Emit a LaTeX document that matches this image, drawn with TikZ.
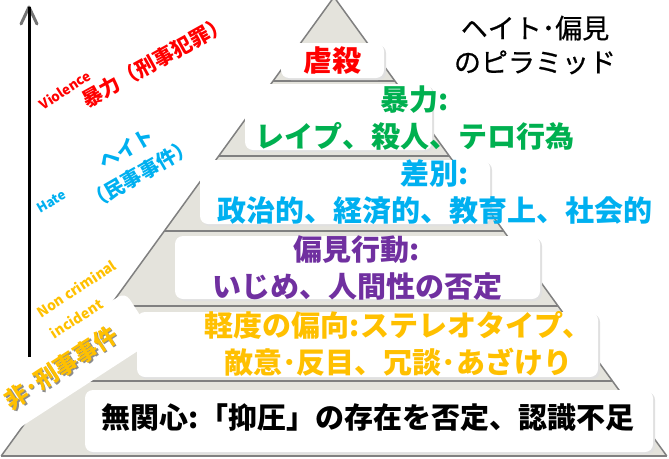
\documentclass[tikz,border=0pt]{standalone}
\usepackage{fontspec}
\setmainfont{Noto Sans CJK JP}
\newfontfamily\titlefont[FakeBold=0.6]{Noto Sans CJK JP}
\usetikzlibrary{calc}
\definecolor{pyrfill}{HTML}{E4E3DC}
\definecolor{pyredge}{HTML}{808080}
\definecolor{cRed}{HTML}{FF0000}
\definecolor{cGreen}{HTML}{00B050}
\definecolor{cBlue}{HTML}{00B0F0}
\definecolor{cPurple}{HTML}{7030A0}
\definecolor{cGold}{HTML}{FFC000}
\tikzset{
  wbox/.style={fill=white, rounded corners=8pt},
  wshadow/.style={fill=black!12, rounded corners=8pt},
  baseline/.style={draw=pyredge, line width=2.6pt},
  lvl/.style={font=\bfseries\fontsize{29}{37}\selectfont, align=center, inner sep=0pt},
  side/.style={inner sep=0pt, align=center},
}
\begin{document}
\begin{tikzpicture}[x=1pt,y=-1pt]
\useasboundingbox (0,0) rectangle (669,458);
\begin{scope}
\clip (0,0) rectangle (669,458);
% pyramid
\coordinate (apex) at (334,-3);
\coordinate (bl) at (1.2,456);
\coordinate (br) at (666.8,456);
\fill[pyrfill] (apex) -- (bl) -- (br) -- cycle;
\draw[pyredge, line width=1.5pt] (bl) -- (apex) -- (br);
\foreach \y/\h in {81/60.9,156/115.3,231/169.7,306/224,381/278.4,456/332.8}
  \draw[baseline] ({334-\h},\y) -- ({334+\h},\y);
% shadows
\foreach \a/\b/\c/\d in {281/43/384/78,245/84/432/150,200/160/490/224,175/236/540/299,137/312/598/377,85/390/653/452}
  \fill[wshadow] (\a+2,\b+2) rectangle (\c+2,\d+2);
% white boxes
\fill[wbox] (281,43) rectangle (384,78);
\fill[wbox] (245,84) rectangle (432,150);
\fill[wbox] (200,160) rectangle (490,224);
\fill[wbox] (175,236) rectangle (540,299);
\fill[wbox] (137,312) rectangle (598,377);
\fill[wbox] (85,390) rectangle (653,452);
% banner
\node[fill=white, rounded corners=8pt, minimum width=230pt, minimum height=56pt, rotate=33, inner sep=0pt] (banner) at (44,378.5) {};
\end{scope}
% arrow
\coordinate (arrbot) at (29,357);
\coordinate (arrtop) at (29,7);
\coordinate (headL) at (21,24);
\coordinate (headR) at (37,24);
\draw[black!55, line width=3pt, line cap=round, line join=round] (headL) -- (arrtop) -- (headR);
\draw[black, line width=3pt] (arrbot) -- (arrtop);
% level texts
\node[lvl, text=cRed] (t1) at (332,60) {虐殺};
\node[lvl, text=cGreen] (t2) at (415,118) {暴力:\\レイプ、殺人、テロ行為};
\node[lvl, text=cBlue] (t3) at (435,192) {差別:\\政治的、経済的、教育上、社会的};
\node[lvl, text=cPurple] (t4) at (357,268) {偏見行動:\\いじめ、人間性の否定};
\node[lvl, text=cGold] (t5) at (398,344) {軽度の偏向:ステレオタイプ、\\敵意･反目、冗談･あざけり};
\node[lvl, text=black] (t6) at (368,418) {無関心:「抑圧」の存在を否定、認識不足};
% title
\node[side, font=\titlefont\fontsize{27}{34}\selectfont] (title) at (535,45) {ヘイト･偏見\\のピラミッド};
% side labels
\node[side, rotate=33, text=cRed, font=\bfseries\fontsize{13.5}{16}\selectfont] (viol) at (65,90) {Violence};
\node[side, rotate=29, text=cRed, font=\bfseries\fontsize{20.5}{25}\selectfont] (violjp) at (155,62) {暴力（刑事犯罪）};
\node[side, rotate=30, text=cBlue, font=\bfseries\fontsize{13}{15}\selectfont] (hate) at (51.5,201.5) {Hate};
\node[side, rotate=30, text=cBlue, font=\bfseries\fontsize{20}{28.4}\selectfont] (hatejp) at (133.5,161.75) {ヘイト\\（民事事件）};
\node[side, align=left, rotate=33, text=cGold, font=\bfseries\fontsize{14}{25}\selectfont] (noncrim) at (83.3,299) {Non criminal\\incident};
\node[side, rotate=33, text=black!45, font=\bfseries\fontsize{23.5}{28}\selectfont] at (62.5,369) {非･刑事事件};
\node[side, rotate=33, text=cGold, font=\bfseries\fontsize{23.5}{28}\selectfont] (bannertext) at (61,367.5) {非･刑事事件};
\end{tikzpicture}
\end{document}
